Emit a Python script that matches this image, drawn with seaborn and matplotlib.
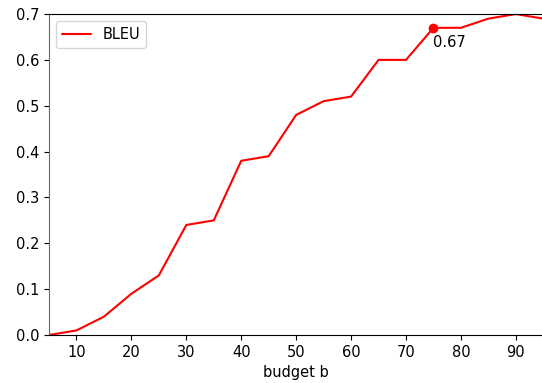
import numpy as np
import pandas as pd
import matplotlib
matplotlib.use("Agg")
import matplotlib.pyplot as plt
import seaborn as sns

budget = [5, 10, 15, 20, 25, 30, 35, 40, 45, 50, 55, 60, 65, 70, 75, 80, 85, 90, 95]
bleu = [0.0, 0.01, 0.04, 0.09, 0.13, 0.24, 0.25, 0.38, 0.39, 0.48, 0.51, 0.52,
        0.60, 0.60, 0.67, 0.67, 0.69, 0.70, 0.69]
highlight_b = 75
highlight_v = 0.67

sns.set_style("white", {'text.color': 'black', 'axes.labelcolor': 'black',
                        'xtick.color': 'black', 'ytick.color': 'black'})
plt.rcParams['font.family'] = ['DejaVu Sans']

df = pd.DataFrame({'budget b': budget, 'BLEU': bleu})
fs = 10.5

fig = plt.figure(figsize=(5.42, 3.83), dpi=100)
ax = fig.add_axes([0.0904, 0.1253, 0.912, 0.838])
sns.lineplot(data=df, x='budget b', y='BLEU', color='red', label='BLEU', ax=ax)
ax.plot([highlight_b], [highlight_v], 'o', color='red', markersize=6)
ax.annotate(f"{highlight_v:.2f}", (highlight_b, highlight_v), xytext=(0, -5),
            textcoords='offset points', ha='left', va='top', fontsize=fs, color='black')

ax.set_xlim(5, 95)
ax.set_ylim(0, 0.7)
ax.set_xticks([10, 20, 30, 40, 50, 60, 70, 80, 90])
ax.set_yticks([0.0, 0.1, 0.2, 0.3, 0.4, 0.5, 0.6, 0.7])
ax.set_ylabel('')
ax.set_xlabel('budget b', fontsize=fs, color='black')
ax.tick_params(axis='both', which='both', length=3.5, width=0.8, color='black',
               labelcolor='black', labelsize=fs, bottom=True, left=True, direction='out')
ax.spines['right'].set_visible(False)
ax.spines['top'].set_color('black')
ax.spines['bottom'].set_color('black')
ax.spines['left'].set_color('#666666')
for s in ['top', 'bottom', 'left']:
    ax.spines[s].set_linewidth(0.8)
leg = ax.legend(loc='upper left', fontsize=fs, frameon=True)
for t in leg.get_texts():
    t.set_color('black')

fig.savefig('out.png', dpi=100)
